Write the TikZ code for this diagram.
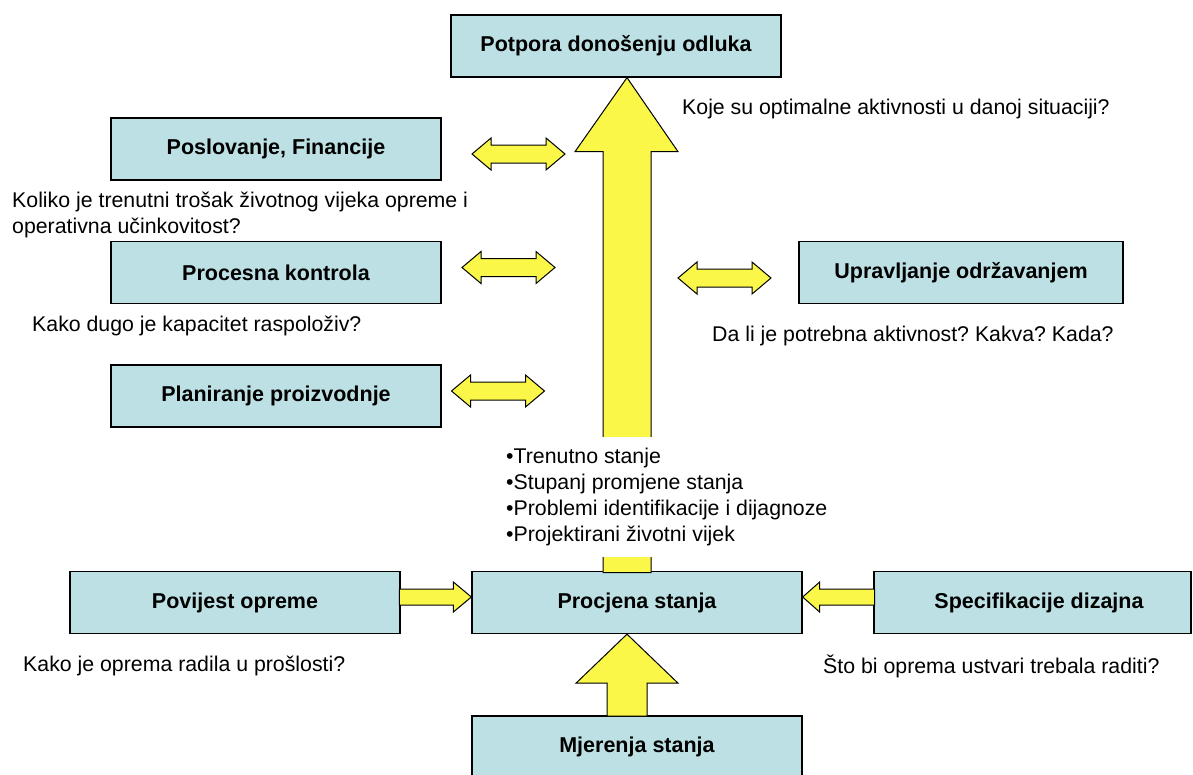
\documentclass[tikz,border=0pt]{standalone}
\usepackage{fontspec}
\setmainfont{Liberation Sans}
\usetikzlibrary{calc}
\definecolor{boxblue}{RGB}{189,224,228}
\definecolor{arrowyellow}{RGB}{250,247,72}
\frenchspacing
\begin{document}
\begin{tikzpicture}[x=1pt,y=-1pt,
				box/.style={draw,fill=boxblue,line width=1.3pt,minimum width=330pt,minimum height=62pt,inner sep=0pt,font=\fontsize{21.5}{26}\selectfont\bfseries},
				question/.style={anchor=west,inner sep=0pt,font=\fontsize{21.3}{26}\selectfont},
				yarrow/.style={draw,fill=arrowyellow,line width=1pt,line join=miter},
				dblarrow/.pic={\draw[yarrow] (-46.5,0) -- ++(19,-16) -- ++(0,7) -- ++(55,0) -- ++(0,-7) -- ++(19,16) -- ++(-19,16) -- ++(0,-7) -- ++(-55,0) -- ++(0,7) -- cycle;}]
\clip (0,0) rectangle (1193,774);
% boxes
\node[box] (top) at (616,46) {Potpora donošenju odluka};
\node[box] (posl) at (276,149) {Poslovanje, Financije};
\node[box] (proc) at (276,272.5) {Procesna kontrola};
\node[box] (plan) at (276,396) {Planiranje proizvodnje};
\node[box,minimum width=324pt] (uprav) at (961,272.5) {Upravljanje održavanjem};
\node[box] (procj) at (637,602.5) {Procjena stanja};
\node[box] (povij) at (235,602.5) {Povijest opreme};
\node[box,minimum width=317pt] (spec) at (1032.5,602.5) {\hspace*{13pt}Specifikacije dizajna};
\node[box] (mjer) at (637,747) {Mjerenja stanja};
% arrows
\coordinate (up) at (627,0);
\draw[yarrow] (up |- top.south) -- ++(51,74) -- ++(-27,0) -- ++(0,421) -- ++(-48,0) -- ++(0,-421) -- ++(-28,0) -- cycle;
\draw[yarrow] (up |- procj.south) -- ++(51,49) -- ++(-31,0) -- ++(0,33) -- ++(-40,0) -- ++(0,-33) -- ++(-31,0) -- cycle;
\draw[yarrow] ($(procj.west)+(0,-5.5)$) -- ++(-18,-15) -- ++(0,7) -- ++(-54,0) -- ++(0,16) -- ++(54,0) -- ++(0,7) -- cycle;
\draw[yarrow] ($(procj.east)+(0,-5.5)$) -- ++(17,-15) -- ++(0,7) -- ++(55,0) -- ++(0,16) -- ++(-55,0) -- ++(0,7) -- cycle;
\pic at (518.5,154) {dblarrow};
\pic at (508.5,267.5) {dblarrow};
\pic at (498,391) {dblarrow};
\pic at (724.5,278) {dblarrow};
% texts
\node[fill=white,anchor=north west,inner xsep=16pt,inner ysep=11pt,align=left,font=\fontsize{21.3}{26}\selectfont] (info) at (490,437) {•Trenutno stanje\\•Stupanj promjene stanja\\•Problemi identifikacije i dijagnoze\\•Projektirani životni vijek};
\node[question] (q1) at (682,109) {Koje su optimalne aktivnosti u danoj situaciji?};
\node[question,anchor=north west,align=left] (q2) at (12,192) {Koliko je trenutni trošak životnog vijeka opreme i\\operativna učinkovitost?};
\node[question] (q3) at (32,326) {Kako dugo je kapacitet raspoloživ?};
\node[question] (q4) at (712,336) {Da li je potrebna aktivnost? Kakva? Kada?};
\node[question] (q5) at (23,666) {Kako je oprema radila u prošlosti?};
\node[question] (q6) at (823,666) {Što bi oprema ustvari trebala raditi?};
\end{tikzpicture}
\end{document}
